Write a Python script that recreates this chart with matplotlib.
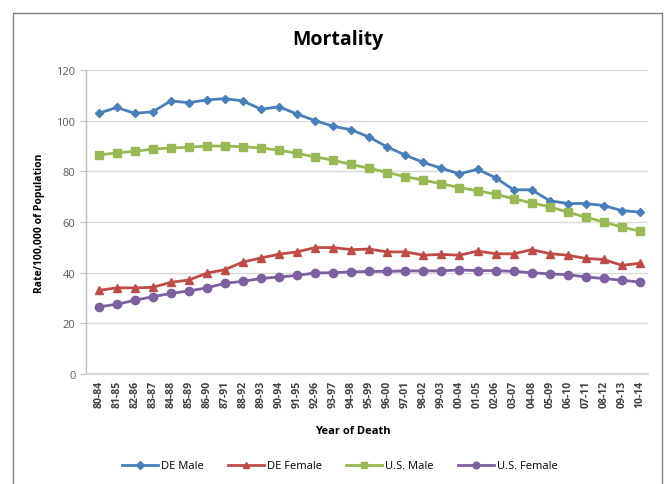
import matplotlib
matplotlib.use("Agg")
import matplotlib.pyplot as plt
from matplotlib.lines import Line2D

periods = ["80-84","81-85","82-86","83-87","84-88","85-89","86-90","87-91","88-92","89-93",
           "90-94","91-95","92-96","93-97","94-98","95-99","96-00","97-01","98-02","99-03",
           "00-04","01-05","02-06","03-07","04-08","05-09","06-10","07-11","08-12","09-13","10-14"]

de_male = [102.9, 105.2, 102.9, 103.5, 107.8, 107.1, 108.2, 108.7, 107.8, 104.5,
           105.5, 102.6, 100.0, 97.8, 96.4, 93.5, 89.6, 86.4, 83.5, 81.2,
           79.0, 80.8, 77.5, 72.7, 72.7, 68.4, 67.3, 67.3, 66.5, 64.5, 63.9]
de_female = [33.0, 34.0, 34.0, 34.2, 36.2, 37.1, 39.8, 41.2, 44.2, 45.8,
             47.3, 48.2, 49.9, 49.9, 49.1, 49.3, 48.2, 48.2, 46.9, 47.2,
             46.9, 48.5, 47.5, 47.4, 49.1, 47.5, 46.9, 45.6, 45.2, 42.9, 43.7]
us_male = [86.4, 87.3, 87.9, 88.8, 89.2, 89.5, 90.0, 90.0, 89.7, 89.2,
           88.4, 87.1, 85.7, 84.4, 82.7, 81.2, 79.5, 77.9, 76.5, 75.1,
           73.6, 72.3, 71.0, 69.2, 67.5, 66.0, 63.9, 61.9, 60.0, 58.0, 56.4]
us_female = [26.5, 27.5, 29.1, 30.5, 31.8, 32.8, 34.0, 35.8, 36.6, 37.7,
             38.3, 38.9, 39.9, 40.0, 40.3, 40.5, 40.5, 40.7, 40.7, 40.7,
             41.1, 40.8, 40.8, 40.5, 40.0, 39.5, 39.2, 38.3, 37.7, 37.0, 36.3]

series = [
    ("DE Male", de_male, "#4A7EBB", "D", 4.5),
    ("DE Female", de_female, "#BE4B48", "^", 6),
    ("U.S. Male", us_male, "#98B954", "s", 5.5),
    ("U.S. Female", us_female, "#7D60A0", "o", 6),
]

plt.rcParams['font.family'] = ['Open Sans', 'DejaVu Sans']
fig = plt.figure(figsize=(6.66, 4.85), dpi=100)
W, H = 666, 485
ax = fig.add_axes([86 / W, 1 - 375 / H, (648 - 86) / W, (375 - 71) / H])

x = list(range(len(periods)))
for name, vals, col, mk, ms in series:
    ax.plot(x, vals, color=col, marker=mk, markersize=ms, linewidth=2, label=name)

ax.set_ylim(0, 120)
ax.set_yticks(range(0, 121, 20))
ax.set_xlim(-0.7, 30.45)
ax.set_xticks(x)
ax.set_xticklabels(periods, rotation=90, fontsize=7.5, fontweight='bold', color='#404040')
ax.tick_params(axis='y', labelsize=8, colors='#595959', length=4, color='#BFBFBF')
ax.tick_params(axis='x', length=0, pad=4)
ax.grid(axis='y', color='#D9D9D9', linewidth=1)
ax.set_axisbelow(True)
for s in ['top', 'right']:
    ax.spines[s].set_visible(False)
ax.spines['left'].set_color('#BFBFBF')
ax.spines['bottom'].set_color('#D9D9D9')
ax.spines['left'].set_linewidth(1)
ax.spines['bottom'].set_linewidth(1.5)

ax.set_ylabel("Rate/100,000 of Population", fontsize=7.5, fontweight='bold', labelpad=8)
fig.text(353 / W, 1 - 432 / H, "Year of Death", ha='center', va='center', fontsize=8, fontweight='bold')
fig.text(338 / W, 1 - 40 / H, "Mortality", ha='center', va='center', fontsize=14, fontweight='bold')

handles = [Line2D([0], [0], color=c, marker=m, markersize=ms * 0.8, linewidth=2) for _, _, c, m, ms in series]
fig.legend(handles, [s[0] for s in series], loc='center', bbox_to_anchor=(340 / W, 1 - 467 / H),
           ncol=4, frameon=False, fontsize=8, handlelength=3.2, columnspacing=2.2, handletextpad=0.3)

# chart border
border = Line2D([13 / W, 13 / W, 662 / W, 662 / W], [0, 1 - 14 / H, 1 - 14 / H, 0],
                transform=fig.transFigure, color='#808080', linewidth=1)
fig.add_artist(border)

fig.savefig("out.png", dpi=100)
